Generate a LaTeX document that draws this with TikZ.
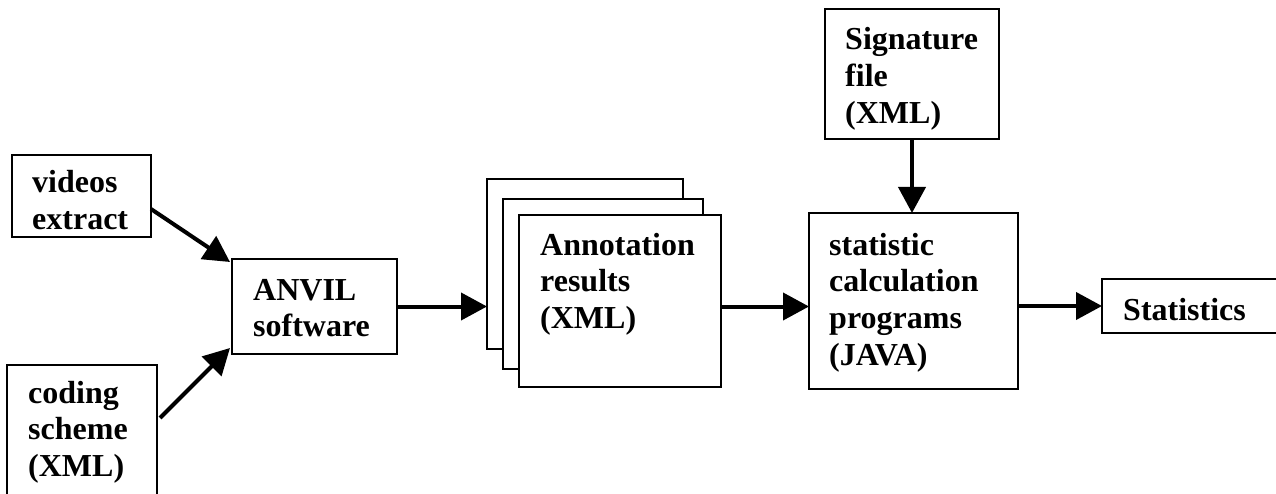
\documentclass[tikz,border=0pt]{standalone}
\usepackage{fontspec}
\setmainfont{Liberation Serif}
\usetikzlibrary{arrows.meta}
\begin{document}
\begin{tikzpicture}[x=1pt,y=-1pt,
  box/.style={draw=black,line width=1.8pt,fill=white,inner sep=0pt,outer sep=0pt,minimum width=#1},
  lbl/.style={anchor=base west,inner sep=0pt,align=left,text width=220pt,
    font=\bfseries\fontsize{32}{36.8}\selectfont},
  arr/.style={line width=4pt,-{Triangle[length=26pt,width=27pt]}}]
\useasboundingbox (0,0) rectangle (1276,494);
\clip (0,0) rectangle (1276,494);
% boxes
\node[box=139pt,minimum height=82pt]  (videos) at (81.5,196) {};
\node[box=150pt,minimum height=145pt] (coding) at (82,437.5) {};
\node[box=165pt,minimum height=95pt]  (anvil)  at (314.5,306.5) {};
\node[box=196pt,minimum height=170pt] (back)   at (585,264) {};
\node[box=200pt,minimum height=170pt] (middle) at (603,284) {};
\node[box=202pt,minimum height=172pt] (front)  at (620,301) {};
\node[box=174pt,minimum height=130pt] (sig)    at (912,74) {};
\node[box=209pt,minimum height=176pt] (stat)   at (913.5,301) {};
\node[box=220pt,minimum height=54pt]  (res)    at (1212,306) {};
% labels
\node[lbl] (tvideos) at (32,193) {videos\\extract};
\node[lbl] (tcoding) at (28,403) {coding\\scheme\\(XML)};
\node[lbl] (tanvil)  at (253,300) {ANVIL\\software};
\node[lbl] (tannot)  at (540,255) {Annotation\\results\\(XML)};
\node[lbl] (tsig)    at (845,50)  {Signature\\file\\(XML)};
\node[lbl] (tstat)   at (829,255) {statistic\\calculation\\programs\\(JAVA)};
\node[lbl] (tres)    at (1123,320) {Statistics};
% connectors
\draw[arr] ([yshift=-13pt]videos.east) -- ([xshift=-2pt,yshift=-3pt]anvil.north west);
\draw[arr] ([xshift=3pt,yshift=-53pt]coding.north east) -- ([xshift=-2pt,yshift=6pt]anvil.south west);
\draw[arr] (anvil.east) -- (anvil.east -| back.west);
\draw[arr] (front.east |- anvil.east) -- (stat.west |- anvil.east);
\draw[arr] (sig.south) -- (stat.north -| sig.south);
\draw[arr] (stat.east |- res.west) -- (res.west);
\end{tikzpicture}
\end{document}
